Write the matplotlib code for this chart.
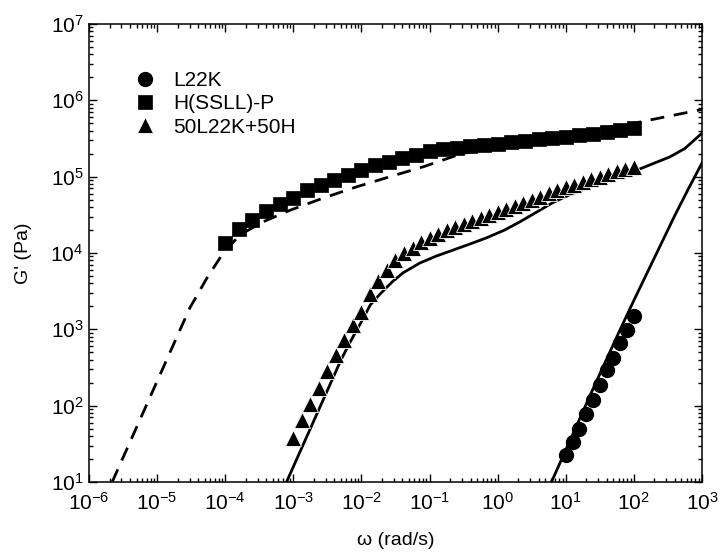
import numpy as np
import matplotlib
matplotlib.use("Agg")
import matplotlib.pyplot as plt
from matplotlib.ticker import LogLocator, NullFormatter

plt.rcParams['font.family'] = ['Liberation Sans', 'DejaVu Sans']

# data (log10 values)
# L22K, circles
lw_l22k = [1.0, 1.1, 1.2, 1.3, 1.4, 1.5, 1.6, 1.7, 1.8, 1.9, 2.0]
lg_l22k = [1.35, 1.53, 1.70, 1.89, 2.08, 2.27, 2.47, 2.63, 2.82, 2.99, 3.18]

# H(SSLL)-P, squares (5 per decade from 1e-4 to 1e2)
lw_h = [-4.0, -3.8, -3.6, -3.4, -3.2, -3.0, -2.8, -2.6, -2.4, -2.2, -2.0,
        -1.8, -1.6, -1.4, -1.2, -1.0, -0.8, -0.6, -0.4, -0.2, 0.0,
        0.2, 0.4, 0.6, 0.8, 1.0, 1.2, 1.4, 1.6, 1.8, 2.0]
lg_h = [4.13, 4.32, 4.43, 4.55, 4.64, 4.72, 4.83, 4.89, 4.96, 5.02, 5.09,
        5.15, 5.19, 5.25, 5.29, 5.33, 5.36, 5.38, 5.40, 5.42, 5.43,
        5.45, 5.47, 5.49, 5.51, 5.52, 5.54, 5.56, 5.58, 5.61, 5.64]

# 50L22K+50H, triangles (8 per decade from 1e-3 to 1e2)
lw_blend = [-3.0, -2.875, -2.75, -2.625, -2.5, -2.375, -2.25, -2.125, -2.0,
            -1.875, -1.75, -1.625, -1.5, -1.375, -1.25, -1.125, -1.0,
            -0.875, -0.75, -0.625, -0.5, -0.375, -0.25, -0.125, 0.0,
            0.125, 0.25, 0.375, 0.5, 0.625, 0.75, 0.875, 1.0,
            1.125, 1.25, 1.375, 1.5, 1.625, 1.75, 1.875, 2.0]
lg_blend = [1.57, 1.81, 2.02, 2.23, 2.45, 2.66, 2.86, 3.06, 3.23,
            3.46, 3.63, 3.78, 3.91, 4.00, 4.07, 4.14, 4.20,
            4.25, 4.30, 4.34, 4.38, 4.42, 4.46, 4.50, 4.54,
            4.58, 4.62, 4.66, 4.70, 4.74, 4.78, 4.82, 4.86,
            4.89, 4.93, 4.97, 5.00, 5.04, 5.07, 5.10, 5.13]

# model curves
fw_h = [-5.66, -5.2, -4.8, -4.52, -4.27, -4.03, -3.78, -3.44, -3.05, -2.56,
        -2.06, -1.58, -1.09, -0.6, 0.0, 0.5, 1.0, 1.5, 2.0, 2.5, 3.0]
fg_h = [1.0, 1.92, 2.72, 3.28, 3.67, 4.0, 4.24, 4.41, 4.56, 4.72,
        4.87, 5.0, 5.13, 5.28, 5.42, 5.5, 5.56, 5.63, 5.7, 5.79, 5.88]

fw_blend = [-3.1, -2.8, -2.5, -2.3, -2.15, -2.0, -1.87, -1.73, -1.55, -1.39,
            -1.14, -0.9, -0.65, -0.4, -0.16, 0.1, 0.33, 0.58, 0.81, 1.05,
            1.31, 1.55, 1.8, 2.14, 2.53, 2.75, 3.0]
fg_blend = [1.0, 1.6, 2.2, 2.6, 2.86, 3.1, 3.32, 3.46, 3.62, 3.74,
            3.87, 3.96, 4.04, 4.12, 4.2, 4.3, 4.41, 4.54, 4.66, 4.76,
            4.85, 4.93, 5.0, 5.12, 5.26, 5.37, 5.57]

fw_l22k = [0.79, 1.0, 1.2, 1.4, 1.6, 1.8, 2.0, 2.2, 2.4, 2.6, 2.8, 3.0]
fg_l22k = [1.0, 1.42, 1.82, 2.22, 2.61, 3.0, 3.38, 3.75, 4.12, 4.49, 4.84, 5.18]


def p10(a):
    return 10.0 ** np.array(a)


fig = plt.figure(figsize=(7.22, 5.58), dpi=100)
ax = fig.add_axes([89 / 722, 1 - 482 / 558, 613 / 722, 458 / 558])

ax.plot(p10(fw_h), p10(fg_h), color='black', lw=2.0, ls=(0, (5, 3.5)))
ax.plot(p10(fw_blend), p10(fg_blend), color='black', lw=2.0)
ax.plot(p10(fw_l22k), p10(fg_l22k), color='black', lw=2.0)

ax.plot(p10(lw_l22k), p10(lg_l22k), 'o', color='black', ms=10,
        mec='black', label='L22K')
ax.plot(p10(lw_h), p10(lg_h), 's', color='black', ms=9.5,
        mec='black', mew=0.5, label='H(SSLL)-P')
ax.plot(p10(lw_blend), p10(lg_blend), '^', color='black', ms=11,
        mec='white', mew=0.6, label='50L22K+50H')

ax.set_xscale('log')
ax.set_yscale('log')
ax.set_xlim(1e-6, 1e3)
ax.set_ylim(1e1, 1e7)

for axis in (ax.xaxis, ax.yaxis):
    axis.set_major_locator(LogLocator(base=10, numticks=20))
    axis.set_minor_locator(LogLocator(base=10, subs=np.arange(2, 10), numticks=100))
    axis.set_minor_formatter(NullFormatter())

ax.tick_params(which='both', direction='in', top=True, right=True, width=1)
ax.tick_params(which='major', length=5.5, labelsize=15)
ax.tick_params(which='minor', length=3)
ax.tick_params(axis='x', pad=7)
ax.tick_params(axis='y', pad=4)
for s in ax.spines.values():
    s.set_linewidth(1.1)

ax.set_xlabel('ω (rad/s)', fontsize=14, labelpad=13)
ax.set_ylabel("G' (Pa)", fontsize=14, labelpad=13)

ax.legend(loc='upper left', bbox_to_anchor=(0.0744, 0.897), frameon=False,
          fontsize=15, borderpad=0, borderaxespad=0, handlelength=1.0,
          handletextpad=0.85, labelspacing=0.2, numpoints=1)

fig.savefig('out.png', dpi=100)
